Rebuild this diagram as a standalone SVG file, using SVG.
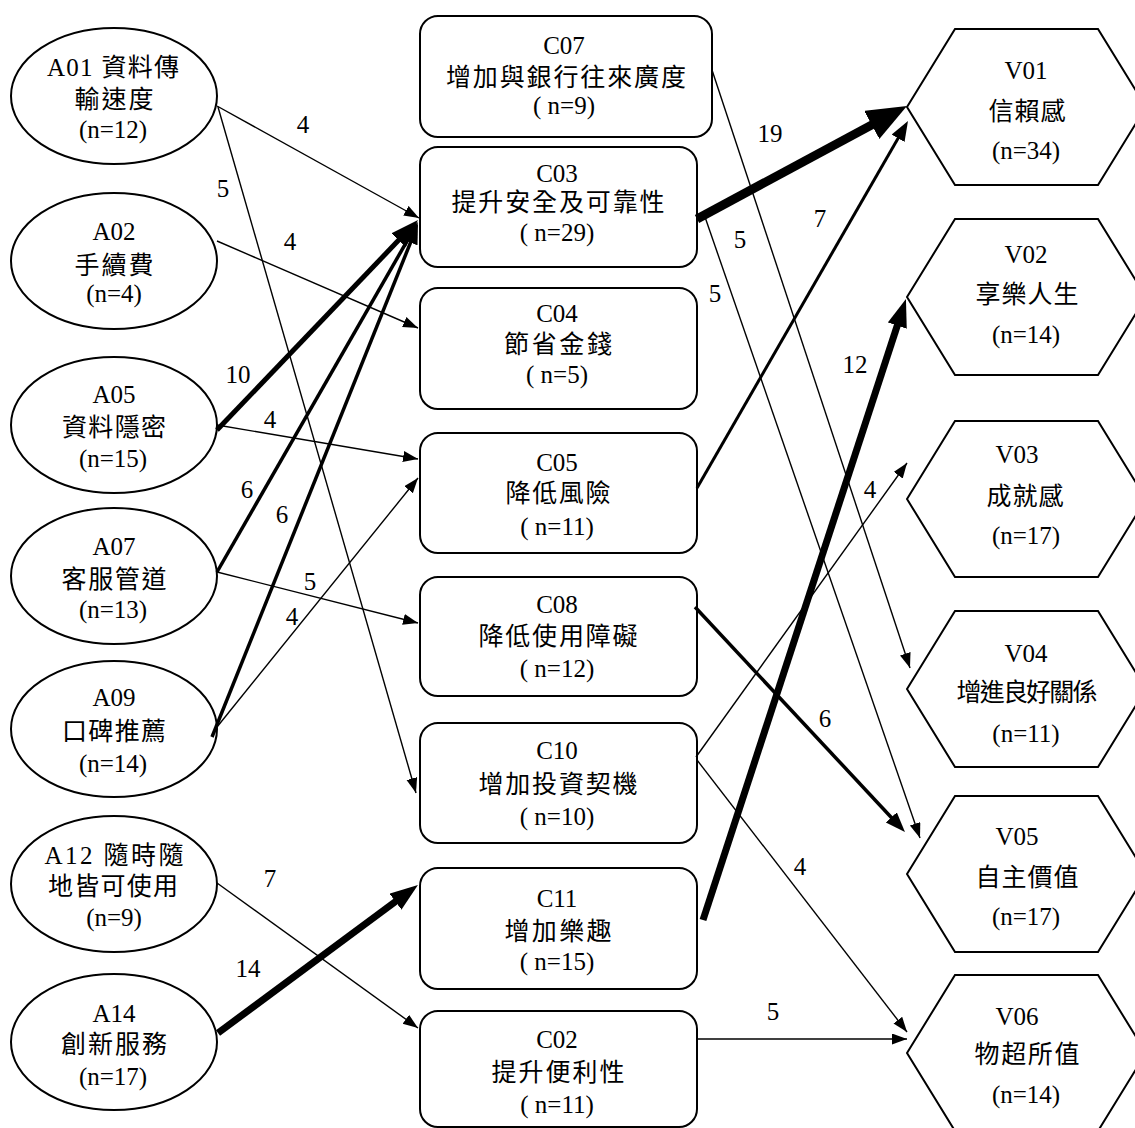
<svg xmlns="http://www.w3.org/2000/svg" width="1135" height="1128" viewBox="0 0 1135 1128">
<style>
.node ellipse, .node rect, .node polygon { fill: #fff; stroke: #000; stroke-width: 2; }
text { font-family: "Liberation Serif", "Noto Sans CJK TC", serif; font-size: 25px; text-anchor: middle; fill: #000; }
.lbl { font-size: 25px; }
.conn line { stroke: #000; fill: none; }
.w1 { stroke-width: 1.4; marker-end: url(#as); }
.w3 { stroke-width: 3; marker-end: url(#am); }
.w4 { stroke-width: 3.5; marker-end: url(#am); }
.w5 { stroke-width: 5; marker-end: url(#al); }
.w7 { stroke-width: 7; marker-end: url(#al); }
.w9 { stroke-width: 9; marker-end: url(#axl); }
</style>
<defs>
<marker id="as" markerUnits="userSpaceOnUse" markerWidth="16" markerHeight="12" refX="15" refY="5.5" orient="auto"><path d="M0,0 L15,5.5 L0,11 z" fill="#000"/></marker>
<marker id="am" markerUnits="userSpaceOnUse" markerWidth="21" markerHeight="16" refX="12" refY="7.5" orient="auto"><path d="M0,0 L20,7.5 L0,15 z" fill="#000"/></marker>
<marker id="al" markerUnits="userSpaceOnUse" markerWidth="29" markerHeight="21" refX="14" refY="10" orient="auto"><path d="M0,0 L28,10 L0,20 z" fill="#000"/></marker>
<marker id="axl" markerUnits="userSpaceOnUse" markerWidth="41" markerHeight="33" refX="18" refY="16" orient="auto"><path d="M0,0 L40,16 L0,32 z" fill="#000"/></marker>
</defs>
<rect width="1135" height="1128" fill="#fff"/>

<g id="A01" class="node"><ellipse cx="114" cy="96" rx="103" ry="68"/><text x="113" y="76" textLength="132" lengthAdjust="spacing">A01 資料傳</text><text x="114" y="108" textLength="79" lengthAdjust="spacing">輸速度</text><text x="113" y="138">(n=12)</text></g>
<g id="A02" class="node"><ellipse cx="114" cy="261" rx="103" ry="68"/><text x="114" y="240">A02</text><text x="114" y="274" textLength="79" lengthAdjust="spacing">手續費</text><text x="114" y="302">(n=4)</text></g>
<g id="A05" class="node"><ellipse cx="114" cy="425" rx="103" ry="68"/><text x="114" y="403">A05</text><text x="114" y="436" textLength="104" lengthAdjust="spacing">資料隱密</text><text x="113" y="467">(n=15)</text></g>
<g id="A07" class="node"><ellipse cx="114" cy="576" rx="103" ry="68"/><text x="114" y="555">A07</text><text x="114" y="588" textLength="105" lengthAdjust="spacing">客服管道</text><text x="113" y="618">(n=13)</text></g>
<g id="A09" class="node"><ellipse cx="114" cy="729" rx="103" ry="68"/><text x="114" y="706">A09</text><text x="114" y="740" textLength="104" lengthAdjust="spacing">口碑推薦</text><text x="113" y="772">(n=14)</text></g>
<g id="A12" class="node"><ellipse cx="114" cy="884" rx="103" ry="68"/><text x="114" y="864" textLength="139" lengthAdjust="spacing">A12 隨時隨</text><text x="113" y="895" textLength="130" lengthAdjust="spacing">地皆可使用</text><text x="114" y="926">(n=9)</text></g>
<g id="A14" class="node"><ellipse cx="114" cy="1042" rx="103" ry="68"/><text x="114" y="1022">A14</text><text x="114" y="1053" textLength="106" lengthAdjust="spacing">創新服務</text><text x="113" y="1085">(n=17)</text></g>

<g id="C07" class="node"><rect x="420" y="16" width="292" height="121" rx="18"/><text x="564" y="54">C07</text><text x="566" y="86" textLength="240" lengthAdjust="spacing">增加與銀行往來廣度</text><text x="564" y="114">( n=9)</text></g>
<g id="C03" class="node"><rect x="420" y="147" width="277" height="120" rx="18"/><text x="557" y="182">C03</text><text x="558" y="211" textLength="213" lengthAdjust="spacing">提升安全及可靠性</text><text x="557" y="241">( n=29)</text></g>
<g id="C04" class="node"><rect x="420" y="288" width="277" height="121" rx="18"/><text x="557" y="322">C04</text><text x="558" y="353" textLength="108" lengthAdjust="spacing">節省金錢</text><text x="557" y="383">( n=5)</text></g>
<g id="C05" class="node"><rect x="420" y="433" width="277" height="120" rx="18"/><text x="557" y="471">C05</text><text x="558" y="502" textLength="105" lengthAdjust="spacing">降低風險</text><text x="557" y="535">( n=11)</text></g>
<g id="C08" class="node"><rect x="420" y="577" width="277" height="119" rx="18"/><text x="557" y="613">C08</text><text x="558" y="645" textLength="159" lengthAdjust="spacing">降低使用障礙</text><text x="557" y="677">( n=12)</text></g>
<g id="C10" class="node"><rect x="420" y="723" width="277" height="120" rx="18"/><text x="557" y="759">C10</text><text x="558" y="793" textLength="159" lengthAdjust="spacing">增加投資契機</text><text x="557" y="825">( n=10)</text></g>
<g id="C11" class="node"><rect x="420" y="868" width="277" height="121" rx="18"/><text x="557" y="907">C11</text><text x="558" y="940" textLength="107" lengthAdjust="spacing">增加樂趣</text><text x="557" y="970">( n=15)</text></g>
<g id="C02" class="node"><rect x="420" y="1011" width="277" height="116" rx="18"/><text x="557" y="1048">C02</text><text x="558" y="1081" textLength="133" lengthAdjust="spacing">提升便利性</text><text x="557" y="1113">( n=11)</text></g>

<g id="V01" class="node"><polygon points="907,107 955,29 1098,29 1146,107 1098,185 955,185"/><text x="1026" y="79">V01</text><text x="1027" y="120" textLength="77" lengthAdjust="spacing">信賴感</text><text x="1026" y="159">(n=34)</text></g>
<g id="V02" class="node"><polygon points="907,297 955,219 1098,219 1146,297 1098,375 955,375"/><text x="1026" y="263">V02</text><text x="1027" y="303" textLength="103" lengthAdjust="spacing">享樂人生</text><text x="1026" y="343">(n=14)</text></g>
<g id="V03" class="node"><polygon points="907,499 955,421 1098,421 1146,499 1098,577 955,577"/><text x="1017" y="463">V03</text><text x="1025" y="505" textLength="77" lengthAdjust="spacing">成就感</text><text x="1026" y="544">(n=17)</text></g>
<g id="V04" class="node"><polygon points="907,689 955,611 1098,611 1146,689 1098,767 955,767"/><text x="1026" y="662">V04</text><text x="1027" y="701" textLength="141" lengthAdjust="spacing">增進良好關係</text><text x="1026" y="742">(n=11)</text></g>
<g id="V05" class="node"><polygon points="907,874 955,796 1098,796 1146,874 1098,952 955,952"/><text x="1017" y="845">V05</text><text x="1027" y="886" textLength="103" lengthAdjust="spacing">自主價值</text><text x="1026" y="925">(n=17)</text></g>
<g id="V06" class="node"><polygon points="907,1053 955,975 1098,975 1146,1053 1098,1131 955,1131"/><text x="1017" y="1025">V06</text><text x="1027" y="1063" textLength="105" lengthAdjust="spacing">物超所值</text><text x="1026" y="1103">(n=14)</text></g>

<g id="connectors" class="conn">
<line class="w1" x1="217" y1="106" x2="419" y2="218"/>
<line class="w1" x1="218" y1="107" x2="416" y2="793"/>
<line class="w1" x1="217" y1="241" x2="418" y2="328"/>
<line class="w5" x1="217" y1="430" x2="408.3" y2="230.1"/>
<line class="w1" x1="217" y1="425" x2="418" y2="459"/>
<line class="w4" x1="217" y1="572" x2="414" y2="228.9"/>
<line class="w1" x1="217" y1="572" x2="418" y2="623"/>
<line class="w4" x1="212" y1="737" x2="415" y2="231.4"/>
<line class="w1" x1="217" y1="727" x2="418" y2="478"/>
<line class="w1" x1="217" y1="883" x2="418" y2="1028"/>
<line class="w7" x1="218" y1="1033" x2="406.7" y2="893.3"/>
<line class="w1" x1="712" y1="70" x2="910" y2="668"/>
<line class="w9" x1="697" y1="219" x2="887.6" y2="116.4"/>
<line class="w1" x1="705" y1="217" x2="920" y2="838"/>
<line class="w3" x1="697" y1="488" x2="904" y2="127.9"/>
<line class="w7" x1="703" y1="920" x2="901.6" y2="312.3"/>
<line class="w1" x1="696" y1="757" x2="907" y2="463"/>
<line class="w1" x1="697" y1="760" x2="907" y2="1032"/>
<line class="w4" x1="695" y1="607" x2="899.5" y2="826.2"/>
<line class="w1" x1="697" y1="1039" x2="907" y2="1039"/>
<text class="lbl" x="303" y="133">4</text>
<text class="lbl" x="223" y="197">5</text>
<text class="lbl" x="290" y="250">4</text>
<text class="lbl" x="238" y="383">10</text>
<text class="lbl" x="270" y="428">4</text>
<text class="lbl" x="247" y="498">6</text>
<text class="lbl" x="282" y="523">6</text>
<text class="lbl" x="310" y="590">5</text>
<text class="lbl" x="292" y="625">4</text>
<text class="lbl" x="270" y="887">7</text>
<text class="lbl" x="248" y="977">14</text>
<text class="lbl" x="770" y="142">19</text>
<text class="lbl" x="740" y="248">5</text>
<text class="lbl" x="715" y="302">5</text>
<text class="lbl" x="820" y="227">7</text>
<text class="lbl" x="855" y="373">12</text>
<text class="lbl" x="870" y="498">4</text>
<text class="lbl" x="825" y="727">6</text>
<text class="lbl" x="800" y="875">4</text>
<text class="lbl" x="773" y="1020">5</text>
</g>
</svg>
